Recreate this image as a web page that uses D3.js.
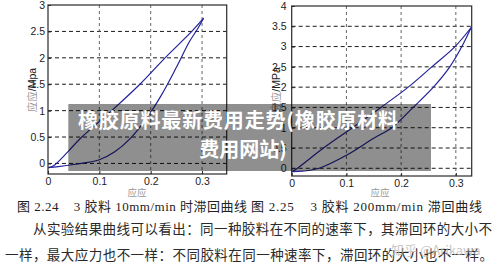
<!DOCTYPE html>
<html><head><meta charset="utf-8">
<script src="https://cdn.jsdelivr.net/npm/d3@7"></script>
<style>
html,body{margin:0;padding:0;background:#fff;}
svg{display:block;}
</style></head>
<body><svg id="c" width="500" height="275"></svg>
<script>
// ---------- data ----------
const xTicks1 = [0, 0.1, 0.2, 0.3];
const yTicks1 = [0, 0.5, 1, 1.5, 2, 2.5, 3];
const xTickLabels1 = ["0", "0.1", "0.2", "0.3"];
const yTickLabels1 = ["0", "0.5", "1", "1.5", "2", "2.5", "3"];
// loading branch (fig 2.24)
const loadStrain1 = [0, 0.02, 0.05, 0.1, 0.13, 0.16, 0.19, 0.22, 0.25, 0.275, 0.292, 0.303];
const loadStress1 = [-0.08, -0.06, -0.02, 0.07, 0.22, 0.47, 0.83, 1.28, 1.82, 2.3, 2.56, 2.75];
// unloading branch (fig 2.24)
const unloadStrain1 = [0.303, 0.28, 0.228, 0.179, 0.124, 0.066, 0.01, 0];
const unloadStress1 = [2.75, 2.5, 2.0, 1.5, 1.0, 0.5, -0.05, -0.08];

const xTicks2 = [0, 0.1, 0.2, 0.3];
const yTicks2 = [0, 0.5, 1, 1.5, 2, 2.5, 3, 3.5, 4];
const xTickLabels2 = ["0", "0.1", "0.2", "0.3"];
const yTickLabels2 = ["0", "0.5", "1", "1.5", "2", "2.5", "3", "3.5", "4"];
// loading branch (fig 2.25)
const loadStrain2 = [0, 0.02, 0.05, 0.1, 0.15, 0.183, 0.222, 0.259, 0.289, 0.311, 0.328];
const loadStress2 = [-0.08, -0.07, 0.0, 0.32, 0.74, 1.0, 1.5, 2.0, 2.5, 3.0, 3.47];
// unloading branch (fig 2.25)
const unloadStrain2 = [0.328, 0.2985, 0.256, 0.213, 0.163, 0.111, 0.058, 0.005, 0];
const unloadStress2 = [3.47, 3.0, 2.5, 2.0, 1.5, 1.0, 0.5, -0.05, -0.08];

const yLabelCn = "应应";
const xLabelCn = "应应";
const caption1 = "图 2.24    3 胶料 10mm/min 时滞回曲线";
const caption2 = "图 2.25    3 胶料 200mm/min 滞回曲线";
const para1 = "从实验结果曲线可以看出：同一种胶料在不同的速率下，其滞回环的大小不";
const para2 = "一样，最大应力也不一样：不同胶料在同一种速率下，滞回环的大小也不一样。";
const overlay1 = "橡胶原料最新费用走势(橡胶原材料";
const overlay2 = "费用网站)";
const watermark = "知乎 @Arikawa";

// ---------- drawing ----------
const svg = d3.select("#c");
const latin = "'Liberation Sans', Arial, sans-serif";
const cjk = "'Noto Sans CJK SC', sans-serif";
const serif = "'Liberation Serif', 'Noto Sans CJK SC', serif";

function drawChart(o) {
  const x = d3.scaleLinear().domain(o.xDom).range([o.left, o.right]);
  const y = d3.scaleLinear().domain(o.yDom).range([o.bottom, o.top]);
  const g = svg.append("g");

  // grid
  g.append("g").selectAll("line").data(o.yTicks.filter(v => v < o.yDom[1])).join("line")
    .attr("x1", o.left).attr("x2", o.right)
    .attr("y1", d => y(d)).attr("y2", d => y(d))
    .attr("stroke", "#1a1a1a").attr("stroke-width", 1).attr("stroke-dasharray", "4,3");
  g.append("g").selectAll("line").data(o.xTicks.filter(v => v > 0)).join("line")
    .attr("y1", o.top).attr("y2", o.bottom)
    .attr("x1", d => x(d)).attr("x2", d => x(d))
    .attr("stroke", "#555").attr("stroke-width", 0.9).attr("stroke-dasharray", "3,3");

  // curves
  const line = d3.line().x(d => x(d[0])).y(d => y(d[1])).curve(d3.curveCatmullRom.alpha(0.5));
  const up = o.loadX.map((v, i) => [v, o.loadY[i]]);
  const down = o.unloadX.map((v, i) => [v, o.unloadY[i]]);
  g.append("path").attr("d", line(up)).attr("fill", "none")
    .attr("stroke", "#23239a").attr("stroke-width", 1.2);
  g.append("path").attr("d", line(down)).attr("fill", "none")
    .attr("stroke", "#23239a").attr("stroke-width", 1.2);

  // axes
  const ax = d3.axisBottom(x).tickValues(o.xTicks).tickFormat((d, i) => o.xLabels[i])
    .tickSize(-3).tickPadding(o.xPad);
  const ay = d3.axisLeft(y).tickValues(o.yTicks).tickFormat((d, i) => o.yLabels[i])
    .tickSize(-3).tickPadding(o.yPad);
  const gx = g.append("g").attr("transform", `translate(0,${o.bottom})`).call(ax);
  const gy = g.append("g").attr("transform", `translate(${o.left},0)`).call(ay);
  [gx, gy].forEach(a => {
    a.select(".domain").remove();
    a.selectAll("line").attr("stroke", "#222");
    a.selectAll("text").attr("font-family", latin).attr("font-size", 10.5).attr("fill", "#222");
  });

  // frame
  g.append("rect").attr("x", o.left).attr("y", o.top)
    .attr("width", o.right - o.left).attr("height", o.bottom - o.top)
    .attr("fill", "none").attr("stroke", "#2a2a2a").attr("stroke-width", 1.2);

  // y label
  const yl = g.append("text")
    .attr("transform", `translate(${o.yLabX},${o.yLabY}) rotate(-90)`)
    .attr("text-anchor", "middle").attr("font-size", 10.5);
  yl.append("tspan").attr("font-family", serif).attr("fill", "#999").text(yLabelCn);
  yl.append("tspan").attr("font-family", latin).attr("fill", "#222").text(o.unit);

  // x label
  g.append("text").attr("x", o.xLabX).attr("y", o.xLabY)
    .attr("text-anchor", "middle").attr("font-family", serif)
    .attr("font-size", 9.5).attr("fill", "#999").text(xLabelCn);
}

drawChart({
  left: 48, right: 226.7, top: 5, bottom: 174,
  xDom: [0, 0.348], yDom: [-0.2, 3],
  xTicks: xTicks1, yTicks: yTicks1, xLabels: xTickLabels1, yLabels: yTickLabels1,
  loadX: loadStrain1, loadY: loadStress1, unloadX: unloadStrain1, unloadY: unloadStress1,
  xPad: 4, yPad: 3, unit: "/Mpa", yLabX: 36, yLabY: 90, xLabX: 137, xLabY: 196
});
drawChart({
  left: 291.7, right: 471.7, top: 6, bottom: 176,
  xDom: [0, 0.329], yDom: [-0.19, 4],
  xTicks: xTicks2, yTicks: yTicks2, xLabels: xTickLabels2, yLabels: yTickLabels2,
  loadX: loadStrain2, loadY: loadStress2, unloadX: unloadStrain2, unloadY: unloadStress2,
  xPad: 4, yPad: 5, unit: "/MPa", yLabX: 280, yLabY: 90, xLabX: 380, xLabY: 196
});

// captions
svg.append("text").attr("x", 17).attr("y", 211).attr("xml:space", "preserve")
  .attr("font-family", serif).attr("font-size", 13).attr("fill", "#222")
  .attr("textLength", 230).attr("lengthAdjust", "spacing").text(caption1);
svg.append("text").attr("x", 251).attr("y", 211).attr("xml:space", "preserve")
  .attr("font-family", serif).attr("font-size", 13).attr("fill", "#222")
  .attr("textLength", 231).attr("lengthAdjust", "spacing").text(caption2);

// paragraph
svg.append("text").attr("x", 33).attr("y", 234)
  .attr("font-family", cjk).attr("font-size", 13.5).attr("fill", "#2a2a2a")
  .attr("textLength", 459).attr("lengthAdjust", "spacing").text(para1);
svg.append("text").attr("x", 5).attr("y", 260)
  .attr("font-family", cjk).attr("font-size", 13.5).attr("fill", "#2a2a2a")
  .attr("textLength", 488).attr("lengthAdjust", "spacing").text(para2);

// watermark
svg.append("text").attr("x", 391).attr("y", 255)
  .attr("font-family", cjk).attr("font-size", 13).attr("fill", "#bbb")
  .attr("opacity", 0.8).text(watermark);

// overlay banner
svg.append("rect").attr("x", 68.3).attr("y", 104).attr("width", 362.7).attr("height", 67)
  .attr("fill", "#000").attr("opacity", 0.44);
svg.append("text").attr("x", 238).attr("y", 127.5).attr("text-anchor", "middle")
  .attr("font-family", cjk).attr("font-weight", "bold").attr("font-size", 20)
  .attr("fill", "#fff").attr("textLength", 320).attr("lengthAdjust", "spacing").text(overlay1);
svg.append("text").attr("x", 243).attr("y", 156.5).attr("text-anchor", "middle")
  .attr("font-family", cjk).attr("font-weight", "bold").attr("font-size", 20)
  .attr("fill", "#fff").text(overlay2);
</script></body></html>
